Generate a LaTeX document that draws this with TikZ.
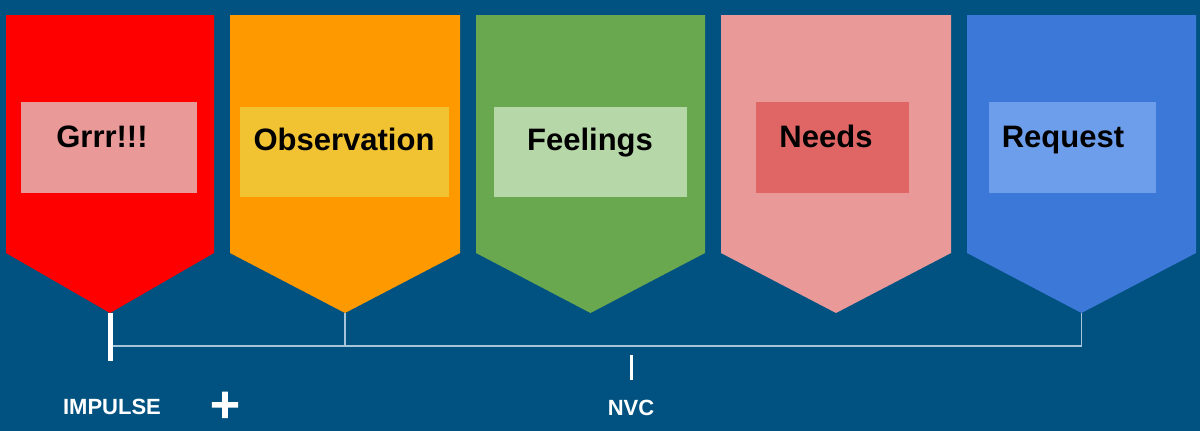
\documentclass[tikz,border=0pt]{standalone}
\usepackage{fontspec}
\setmainfont{Liberation Sans}
\newfontfamily\plusfont[FakeBold=4]{Liberation Sans}
\definecolor{bgblue}{RGB}{1,82,128}
\definecolor{linkgray}{RGB}{165,196,218}
\definecolor{redA}{HTML}{FF0000}
\definecolor{redB}{HTML}{EA9999}
\definecolor{orangeA}{HTML}{FF9900}
\definecolor{orangeB}{HTML}{F1C232}
\definecolor{greenA}{HTML}{6AA84F}
\definecolor{greenB}{HTML}{B6D7A8}
\definecolor{pinkA}{HTML}{EA9999}
\definecolor{pinkB}{HTML}{E06666}
\definecolor{blueA}{HTML}{3C78D8}
\definecolor{blueB}{HTML}{6D9EEB}
\begin{document}
\begin{tikzpicture}[x=1pt,y=-1pt,
  card/.style={inner sep=0pt,minimum height=91pt},
  word/.style={anchor=base,font=\fontsize{31}{36}\selectfont\bfseries,text=black},
  foot/.style={anchor=base,font=\fontsize{22}{26}\selectfont\bfseries,text=white},
  link/.style={draw=linkgray,line width=1.8pt}]
\fill[bgblue] (0,0) rectangle (1200,431);
\foreach \l/\r/\c in {6/214/redA,230/460/orangeA,476/705/greenA,721/951/pinkA,967/1196/blueA}
  \fill[\c] (\l,15) -- (\r,15) -- (\r,253) -- ({(\l+\r)/2},313) -- (\l,253) -- cycle;
\coordinate (tip1) at (110,313);
\coordinate (tip2) at (345,313);
\coordinate (tip5) at (1081.5,313);
\coordinate (barL) at (112,346);
\coordinate (barR) at (1081.5,346);
\coordinate (impend) at (110,361);
\node[card,fill=redB,minimum width=176pt] (grrrbox) at (109,147.5) {};
\node[card,fill=orangeB,minimum width=209pt,minimum height=90pt] (obsbox) at (344.5,152) {};
\node[card,fill=greenB,minimum width=193pt,minimum height=90pt] (feelbox) at (590.5,152) {};
\node[card,fill=pinkB,minimum width=153pt] (needbox) at (832.5,147.5) {};
\node[card,fill=blueB,minimum width=167pt] (reqbox) at (1072.5,147.5) {};
\node[word] (grrr) at (102,147) {Grrr!!!};
\node[word] (obs) at (344,150) {Observation};
\node[word] (feel) at (590,150) {Feelings};
\node[word] (need) at (826,147) {Needs};
\node[word] (req) at (1063,147) {Request};
\draw[link] (barL) -- (barR) -- (tip5);
\draw[link] (tip2) -- (tip2 |- barL);
\draw[white,line width=5pt] (tip1) -- (impend);
\draw[white,line width=3.5pt] (631.5,355) -- (631.5,380);
\node[foot] (impulse) at (112,414) {IMPULSE};
\node[foot] (nvc) at (631,415) {NVC};
\node[anchor=center,text=white,font=\plusfont\fontsize{50}{50}\selectfont] (plus) at (225,407) {+};
\end{tikzpicture}
\end{document}
